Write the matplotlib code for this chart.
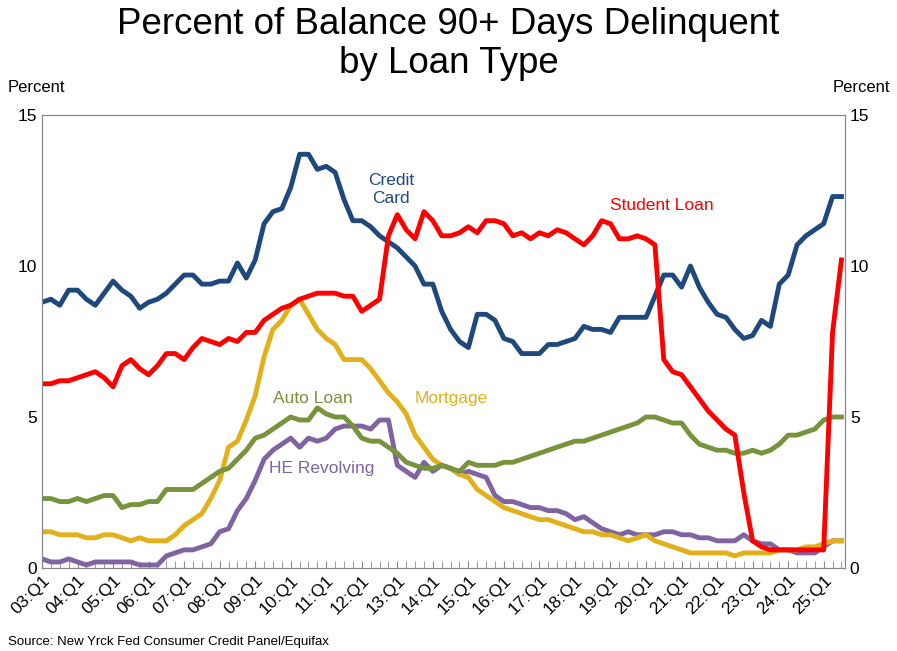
import numpy as np
import matplotlib.pyplot as plt

# quarterly, 03:Q1 .. 25:Q3
credit_card = [8.8, 8.9, 8.7, 9.2, 9.2, 8.9, 8.7, 9.1, 9.5, 9.2, 9.0, 8.6,
               8.8, 8.9, 9.1, 9.4, 9.7, 9.7, 9.4, 9.4, 9.5, 9.5, 10.1, 9.6,
               10.2, 11.4, 11.8, 11.9, 12.6, 13.7, 13.7, 13.2, 13.3, 13.1, 12.2, 11.5,
               11.5, 11.3, 11.0, 10.8, 10.6, 10.3, 10.0, 9.4, 9.4, 8.5, 7.9, 7.5,
               7.3, 8.4, 8.4, 8.2, 7.6, 7.5, 7.1, 7.1, 7.1, 7.4, 7.4, 7.5,
               7.6, 8.0, 7.9, 7.9, 7.8, 8.3, 8.3, 8.3, 8.3, 9.0, 9.7, 9.7,
               9.3, 10.0, 9.3, 8.8, 8.4, 8.3, 7.9, 7.6, 7.7, 8.2, 8.0, 9.4,
               9.7, 10.7, 11.0, 11.2, 11.4, 12.3, 12.3]
student_loan = [6.1, 6.1, 6.2, 6.2, 6.3, 6.4, 6.5, 6.3, 6.0, 6.7, 6.9, 6.6,
                6.4, 6.7, 7.1, 7.1, 6.9, 7.3, 7.6, 7.5, 7.4, 7.6, 7.5, 7.8,
                7.8, 8.2, 8.4, 8.6, 8.7, 8.9, 9.0, 9.1, 9.1, 9.1, 9.0, 9.0,
                8.5, 8.7, 8.9, 11.0, 11.7, 11.2, 10.9, 11.8, 11.5, 11.0, 11.0, 11.1,
                11.3, 11.1, 11.5, 11.5, 11.4, 11.0, 11.1, 10.9, 11.1, 11.0, 11.2, 11.1,
                10.9, 10.7, 11.0, 11.5, 11.4, 10.9, 10.9, 11.0, 10.9, 10.7, 6.9, 6.5,
                6.4, 6.0, 5.6, 5.2, 4.9, 4.6, 4.4, 2.5, 0.9, 0.7, 0.6, 0.6,
                0.6, 0.6, 0.6, 0.6, 0.6, 7.8, 10.2]
auto_loan = [2.3, 2.3, 2.2, 2.2, 2.3, 2.2, 2.3, 2.4, 2.4, 2.0, 2.1, 2.1,
             2.2, 2.2, 2.6, 2.6, 2.6, 2.6, 2.8, 3.0, 3.2, 3.3, 3.6, 3.9,
             4.3, 4.4, 4.6, 4.8, 5.0, 4.9, 4.9, 5.3, 5.1, 5.0, 5.0, 4.7,
             4.3, 4.2, 4.2, 4.0, 3.8, 3.5, 3.4, 3.3, 3.3, 3.4, 3.3, 3.2,
             3.5, 3.4, 3.4, 3.4, 3.5, 3.5, 3.6, 3.7, 3.8, 3.9, 4.0, 4.1,
             4.2, 4.2, 4.3, 4.4, 4.5, 4.6, 4.7, 4.8, 5.0, 5.0, 4.9, 4.8,
             4.8, 4.4, 4.1, 4.0, 3.9, 3.9, 3.8, 3.8, 3.9, 3.8, 3.9, 4.1,
             4.4, 4.4, 4.5, 4.6, 4.9, 5.0, 5.0]
mortgage = [1.2, 1.2, 1.1, 1.1, 1.1, 1.0, 1.0, 1.1, 1.1, 1.0, 0.9, 1.0,
            0.9, 0.9, 0.9, 1.1, 1.4, 1.6, 1.8, 2.3, 2.9, 4.0, 4.2, 4.9,
            5.7, 7.0, 7.9, 8.2, 8.7, 8.9, 8.4, 7.9, 7.6, 7.4, 6.9, 6.9,
            6.9, 6.6, 6.2, 5.8, 5.5, 5.1, 4.4, 4.0, 3.6, 3.4, 3.3, 3.1,
            3.0, 2.6, 2.4, 2.2, 2.0, 1.9, 1.8, 1.7, 1.6, 1.6, 1.5, 1.4,
            1.3, 1.2, 1.2, 1.1, 1.1, 1.0, 0.9, 1.0, 1.1, 0.9, 0.8, 0.7,
            0.6, 0.5, 0.5, 0.5, 0.5, 0.5, 0.4, 0.5, 0.5, 0.5, 0.5, 0.6,
            0.6, 0.6, 0.7, 0.7, 0.8, 0.9, 0.9]
he_revolving = [0.3, 0.2, 0.2, 0.3, 0.2, 0.1, 0.2, 0.2, 0.2, 0.2, 0.2, 0.1,
                0.1, 0.1, 0.4, 0.5, 0.6, 0.6, 0.7, 0.8, 1.2, 1.3, 1.9, 2.3,
                2.9, 3.6, 3.9, 4.1, 4.3, 4.0, 4.3, 4.2, 4.3, 4.6, 4.7, 4.7,
                4.7, 4.6, 4.9, 4.9, 3.4, 3.2, 3.0, 3.5, 3.2, 3.4, 3.3, 3.1,
                3.2, 3.1, 3.0, 2.4, 2.2, 2.2, 2.1, 2.0, 2.0, 1.9, 1.9, 1.8,
                1.6, 1.7, 1.5, 1.3, 1.2, 1.1, 1.2, 1.1, 1.1, 1.1, 1.2, 1.2,
                1.1, 1.1, 1.0, 1.0, 0.9, 0.9, 0.9, 1.1, 0.9, 0.8, 0.8, 0.6,
                0.6, 0.5, 0.5, 0.5, 0.7, 0.9, 0.9]
years = ["%02d:Q1" % y for y in range(3, 26)]

plt.rcParams['font.family'] = ['Liberation Sans', 'DejaVu Sans']
fig = plt.figure(figsize=(8.97, 6.51), dpi=100)
ax = fig.add_axes([42 / 897, 1 - 568 / 651, 803 / 897, 453 / 651])
x = np.arange(len(credit_card))

ax.plot(x, he_revolving, color='#8064a2', lw=3.5)
ax.plot(x, mortgage, color='#e1b01a', lw=3.5)
ax.plot(x, auto_loan, color='#77933c', lw=3.5)
ax.plot(x, credit_card, color='#1f497d', lw=3.5)
ax.plot(x, student_loan, color='#ff0000', lw=3.5)

ax.set_xlim(0, len(x) - 0.6)
ax.set_ylim(0, 15)
ax.set_yticks([0, 5, 10, 15])
ax.set_xticks(np.arange(0, len(x), 4))
ax.set_xticklabels(years, rotation=45, ha='right', rotation_mode='anchor', fontsize=12.5)
ax.set_xticks(np.arange(len(x)), minor=True)
ax.tick_params(axis='x', which='both', direction='in', length=5, color='#888888')
ax.tick_params(axis='y', labelsize=12.5, length=0)
ax2 = ax.twinx()
ax2.set_ylim(0, 15)
ax2.set_yticks([0, 5, 10, 15])
ax2.tick_params(axis='y', labelsize=12.5, length=0)
for a in (ax, ax2):
    for s in a.spines.values():
        s.set_color('#888888')

ax.text(39.3, 12.0, "Credit\nCard", color='#1f497d', fontsize=12.5, ha='center', va='bottom')
ax.text(64, 12.0, "Student Loan", color='#ff0000', fontsize=12.5, ha='left', va='center')
ax.text(26, 5.6, "Auto Loan", color='#77933c', fontsize=12.5, ha='left', va='center')
ax.text(42, 5.6, "Mortgage", color='#e1b01a', fontsize=12.5, ha='left', va='center')
ax.text(25.5, 3.3, "HE Revolving", color='#8064a2', fontsize=12.5, ha='left', va='center')

fig.text(0.5, 0.99, "Percent of Balance 90+ Days Delinquent\nby Loan Type", ha='center', va='top',
         fontsize=26.5, linespacing=1.15)
fig.text(8 / 897, 1 - 88 / 651, "Percent", fontsize=12, va='center')
fig.text(890 / 897, 1 - 88 / 651, "Percent", fontsize=12, va='center', ha='right')
fig.text(8 / 897, 1 - 642 / 651, "Source: New Yrck Fed Consumer Credit Panel/Equifax", fontsize=9.5, va='center')

fig.savefig("out.png", dpi=100)
